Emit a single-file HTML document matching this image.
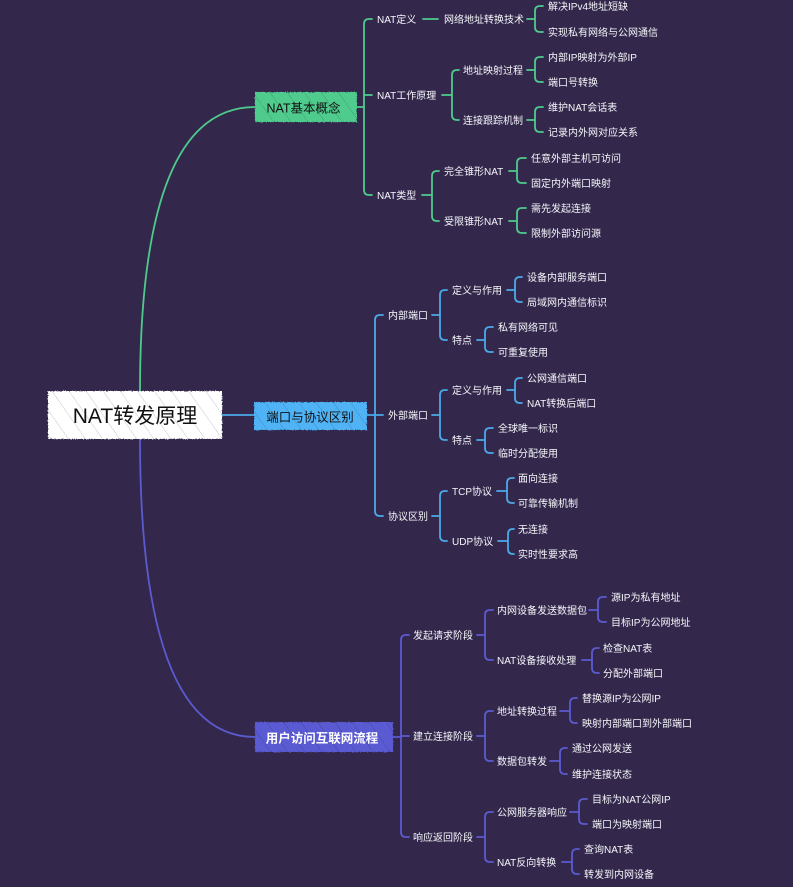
<!DOCTYPE html>
<html><head><meta charset="utf-8"><style>
html,body{margin:0;padding:0;background:#33284c;}
svg{display:block;}
text{font-family:"Liberation Sans","Noto Sans CJK SC",sans-serif;dominant-baseline:central;}
.t{font-size:10px;fill:#f6f6fa;}
</style></head><body>
<svg width="793" height="887" viewBox="0 0 793 887" xmlns="http://www.w3.org/2000/svg">
<defs>
<pattern id="hw" patternUnits="userSpaceOnUse" width="14" height="14" patternTransform="rotate(-35)">
<line x1="0" y1="0" x2="0" y2="14" stroke="#b8b8c8" stroke-width="0.8"/>
</pattern>
<pattern id="hd" patternUnits="userSpaceOnUse" width="14" height="14" patternTransform="rotate(-35)">
<line x1="0" y1="0" x2="0" y2="14" stroke="rgba(0,0,0,0.25)" stroke-width="0.8"/>
</pattern>
<filter id="rough" x="-5%" y="-10%" width="110%" height="120%">
<feTurbulence type="fractalNoise" baseFrequency="0.9" numOctaves="1" seed="3" result="n"/>
<feDisplacementMap in="SourceGraphic" in2="n" scale="2.5"/>
</filter>
</defs>
<rect width="793" height="887" fill="#33284c"/>

<!-- GREEN -->
<g fill="none" stroke="#4ecb8c" stroke-width="1.8" stroke-linecap="round">
<path d="M140,391 Q140,107 255,107"/>
<path d="M357,107 H364"/>
<path d="M372,19 H369 Q364,19 364,24 V190 Q364,195 369,195 H372 M364,95 H372"/>
<path d="M423,19 H438"/>
<path d="M527,19 H535 M543,6 H540 Q535,6 535,11 V27 Q535,32 540,32 H543"/>
<path d="M442,95 H452 M459,70 H457 Q452,70 452,75 V115 Q452,120 457,120 H459"/>
<path d="M527,70 H535 M543,57 H540 Q535,57 535,62 V77 Q535,82 540,82 H543"/>
<path d="M527,120 H535 M543,107 H540 Q535,107 535,112 V127 Q535,132 540,132 H543"/>
<path d="M422,195 H432 M439,171 H437 Q432,171 432,176 V216 Q432,221 437,221 H439"/>
<path d="M509,171 H517 M526,158 H522 Q517,158 517,163 V178 Q517,183 522,183 H526"/>
<path d="M509,221 H517 M526,208 H522 Q517,208 517,213 V228 Q517,233 522,233 H526"/>
</g>

<!-- BLUE -->
<g fill="none" stroke="#4ba9ea" stroke-width="1.8" stroke-linecap="round">
<path d="M222,415 H255"/>
<path d="M367,415 H375"/>
<path d="M383,315 H380 Q375,315 375,320 V511 Q375,516 380,516 H383 M375,415 H383"/>
<path d="M432,315 H440 M447,290 H445 Q440,290 440,295 V335 Q440,340 445,340 H447"/>
<path d="M507,290 H515 M522,277 H520 Q515,277 515,282 V297 Q515,302 520,302 H522"/>
<path d="M477,340 H485 M493,327 H490 Q485,327 485,332 V347 Q485,352 490,352 H493"/>
<path d="M432,415 H440 M447,390 H445 Q440,390 440,395 V435 Q440,440 445,440 H447"/>
<path d="M507,390 H515 M522,378 H520 Q515,378 515,383 V398 Q515,403 520,403 H522"/>
<path d="M477,440 H485 M493,428 H490 Q485,428 485,433 V448 Q485,453 490,453 H493"/>
<path d="M432,516 H440 M447,491 H445 Q440,491 440,496 V536 Q440,541 445,541 H447"/>
<path d="M497,491 H507 M514,478 H512 Q507,478 507,483 V498 Q507,503 512,503 H514"/>
<path d="M498,541 H508 M514,529 H513 Q508,529 508,534 V549 Q508,554 513,554 H514"/>
</g>

<!-- PURPLE -->
<g fill="none" stroke="#5b5bd0" stroke-width="1.8" stroke-linecap="round">
<path d="M140,439 Q140,737 255,737"/>
<path d="M393,737 H401"/>
<path d="M409,635 H406 Q401,635 401,640 V832 Q401,837 406,837 H409 M401,736 H409"/>
<path d="M477,635 H485 M493,610 H490 Q485,610 485,615 V655 Q485,660 490,660 H493"/>
<path d="M589,610 H598 M606,597 H603 Q598,597 598,602 V617 Q598,622 603,622 H606"/>
<path d="M582,660 H592 M599,648 H597 Q592,648 592,653 V668 Q592,673 597,673 H599"/>
<path d="M477,736 H485 M493,711 H490 Q485,711 485,716 V756 Q485,761 490,761 H493"/>
<path d="M560,711 H570 M577,698 H575 Q570,698 570,703 V718 Q570,723 575,723 H577"/>
<path d="M550,761 H560 M567,748 H565 Q560,748 560,753 V769 Q560,774 565,774 H567"/>
<path d="M477,837 H485 M493,812 H490 Q485,812 485,817 V857 Q485,862 490,862 H493"/>
<path d="M570,812 H579 M587,799 H584 Q579,799 579,804 V819 Q579,824 584,824 H587"/>
<path d="M562,862 H572 M579,849 H577 Q572,849 572,854 V869 Q572,874 577,874 H579"/>
</g>

<!-- Boxes -->
<g filter="url(#rough)">
<rect x="48" y="391" width="174" height="48" fill="#ffffff"/>
<rect x="48" y="391" width="174" height="48" fill="url(#hw)"/>
<rect x="255" y="92" width="102" height="30" fill="#4fcb8e"/>
<rect x="255" y="92" width="102" height="30" fill="url(#hd)"/>
<rect x="254" y="402" width="113" height="28" fill="#4fb3f6"/>
<rect x="254" y="402" width="113" height="28" fill="url(#hd)"/>
<rect x="255" y="722" width="138" height="30" fill="#5a5ad2"/>
<rect x="255" y="722" width="138" height="30" fill="url(#hd)"/>
</g>

<g transform="translate(0,1.5)">
<text x="135" y="415" text-anchor="middle" font-size="21" fill="#111">NAT转发原理</text>
<text x="303.5" y="107" text-anchor="middle" font-size="12.5" fill="#111">NAT基本概念</text>
<text x="310" y="416" text-anchor="middle" font-size="12.5" fill="#111">端口与协议区别</text>
<text x="322" y="737" text-anchor="middle" font-size="12.5" font-weight="bold" fill="#ffffff">用户访问互联网流程</text>

<!-- Green texts -->
<text class="t" x="377" y="19">NAT定义</text>
<text class="t" x="444" y="19">网络地址转换技术</text>
<text class="t" x="548" y="6">解决IPv4地址短缺</text>
<text class="t" x="548" y="32">实现私有网络与公网通信</text>
<text class="t" x="377" y="95">NAT工作原理</text>
<text class="t" x="463" y="70">地址映射过程</text>
<text class="t" x="548" y="57">内部IP映射为外部IP</text>
<text class="t" x="548" y="82">端口号转换</text>
<text class="t" x="463" y="120">连接跟踪机制</text>
<text class="t" x="548" y="107">维护NAT会话表</text>
<text class="t" x="548" y="132">记录内外网对应关系</text>
<text class="t" x="377" y="195">NAT类型</text>
<text class="t" x="444" y="171">完全锥形NAT</text>
<text class="t" x="531" y="158">任意外部主机可访问</text>
<text class="t" x="531" y="183">固定内外端口映射</text>
<text class="t" x="444" y="221">受限锥形NAT</text>
<text class="t" x="531" y="208">需先发起连接</text>
<text class="t" x="531" y="233">限制外部访问源</text>

<!-- Blue texts -->
<text class="t" x="388" y="315">内部端口</text>
<text class="t" x="452" y="290">定义与作用</text>
<text class="t" x="527" y="277">设备内部服务端口</text>
<text class="t" x="527" y="302">局域网内通信标识</text>
<text class="t" x="452" y="340">特点</text>
<text class="t" x="498" y="327">私有网络可见</text>
<text class="t" x="498" y="352">可重复使用</text>
<text class="t" x="388" y="415">外部端口</text>
<text class="t" x="452" y="390">定义与作用</text>
<text class="t" x="527" y="378">公网通信端口</text>
<text class="t" x="527" y="403">NAT转换后端口</text>
<text class="t" x="452" y="440">特点</text>
<text class="t" x="498" y="428">全球唯一标识</text>
<text class="t" x="498" y="453">临时分配使用</text>
<text class="t" x="388" y="516">协议区别</text>
<text class="t" x="452" y="491">TCP协议</text>
<text class="t" x="518" y="478">面向连接</text>
<text class="t" x="518" y="503">可靠传输机制</text>
<text class="t" x="452" y="541">UDP协议</text>
<text class="t" x="518" y="529">无连接</text>
<text class="t" x="518" y="554">实时性要求高</text>

<!-- Purple texts -->
<text class="t" x="413" y="635">发起请求阶段</text>
<text class="t" x="497" y="610">内网设备发送数据包</text>
<text class="t" x="611" y="597">源IP为私有地址</text>
<text class="t" x="611" y="622">目标IP为公网地址</text>
<text class="t" x="497" y="660">NAT设备接收处理</text>
<text class="t" x="603" y="648">检查NAT表</text>
<text class="t" x="603" y="673">分配外部端口</text>
<text class="t" x="413" y="736">建立连接阶段</text>
<text class="t" x="497" y="711">地址转换过程</text>
<text class="t" x="582" y="698">替换源IP为公网IP</text>
<text class="t" x="582" y="723">映射内部端口到外部端口</text>
<text class="t" x="497" y="761">数据包转发</text>
<text class="t" x="572" y="748">通过公网发送</text>
<text class="t" x="572" y="774">维护连接状态</text>
<text class="t" x="413" y="837">响应返回阶段</text>
<text class="t" x="497" y="812">公网服务器响应</text>
<text class="t" x="592" y="799">目标为NAT公网IP</text>
<text class="t" x="592" y="824">端口为映射端口</text>
<text class="t" x="497" y="862">NAT反向转换</text>
<text class="t" x="584" y="849">查询NAT表</text>
<text class="t" x="584" y="874">转发到内网设备</text>
</g>
</svg>
</body></html>
